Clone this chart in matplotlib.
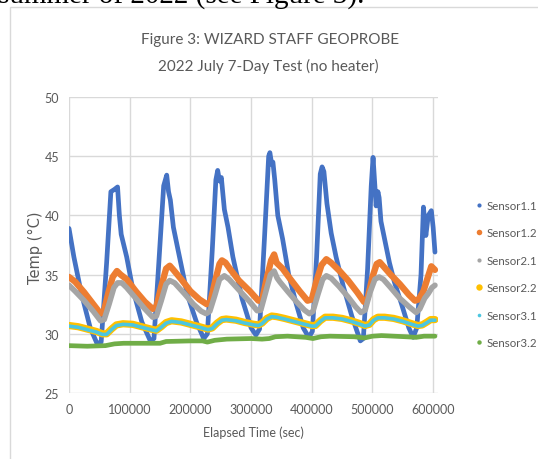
import matplotlib
matplotlib.use("Agg")
import matplotlib.pyplot as plt
from matplotlib.lines import Line2D
from matplotlib.patches import Rectangle

plt.rcParams['font.family'] = ['Lato', 'DejaVu Sans']

# ---- data ----
s11_t = [0, 8000, 20000, 35000, 46000, 53000, 62000, 69000, 75000, 80000, 83000, 86000, 95000, 105000,
         120000, 134000, 140000, 148000, 156000, 161000, 164000, 167000, 172000, 180000, 195000, 210000,
         222000, 228000, 236000, 242000, 245000, 248000, 251000, 256000, 262000, 270000, 285000, 300000,
         308000, 314000, 322000, 329000, 331000, 334000, 336000, 339000, 344000, 352000, 362000, 374000,
         386000, 395000, 401000, 408000, 414000, 417000, 420000, 425000, 432000, 440000, 452000, 466000,
         480000, 485000, 492000, 498000, 501000, 504000, 506000, 509000, 511000, 514000, 520000, 528000,
         536000, 548000, 560000, 567000, 573000, 580000, 584000, 588000, 592000, 597000, 600000, 603000]
s11_v = [38.9, 36.5, 33.5, 30.5, 29.2, 29.3, 36.0, 42.0, 42.2, 42.4, 40.0, 38.4, 36.5, 33.8,
         31.0, 29.4, 29.6, 36.0, 42.5, 43.4, 42.0, 41.3, 39.0, 37.0, 33.3, 31.0,
         29.6, 30.0, 37.0, 43.0, 43.8, 42.9, 43.2, 40.5, 39.0, 36.5, 33.0, 30.5,
         29.9, 30.4, 38.0, 45.0, 45.3, 44.3, 44.5, 43.0, 40.0, 38.0, 35.0, 32.6,
         30.5, 29.7, 30.2, 36.5, 43.5, 44.1, 43.7, 41.0, 38.5, 36.5, 34.0, 31.5,
         29.4, 29.6, 35.5, 42.5, 44.9, 42.5, 40.8, 42.0, 41.5, 39.5, 38.0, 36.0,
         34.4, 32.5, 30.5, 29.7, 30.5, 35.0, 40.7, 38.3, 40.0, 40.4, 39.0, 36.9]

s12_t = [0, 10000, 25000, 40000, 52000, 57000, 65000, 72000, 79000, 85000, 95000, 110000, 125000, 138000,
         144000, 152000, 160000, 166000, 172000, 185000, 200000, 215000, 227000, 233000, 241000, 248000,
         252000, 258000, 265000, 280000, 298000, 312000, 318000, 325000, 333000, 338000, 342000, 352000,
         365000, 380000, 393000, 400000, 408000, 416000, 424000, 432000, 446000, 460000, 475000, 486000,
         492000, 500000, 507000, 512000, 518000, 530000, 545000, 560000, 570000, 576000, 584000, 592000,
         597000, 603000]
s12_v = [34.8, 34.4, 33.5, 32.5, 31.7, 31.8, 33.5, 34.8, 35.3, 35.0, 34.6, 33.6, 32.7, 32.1,
         32.3, 34.0, 35.5, 35.75, 35.4, 34.6, 33.6, 32.9, 32.5, 32.7, 34.5, 35.9,
         36.2, 36.0, 35.5, 34.5, 33.6, 32.8, 32.8, 34.5, 36.2, 36.7, 36.0, 35.5,
         34.6, 33.6, 32.8, 32.9, 34.5, 35.8, 36.3, 36.0, 35.3, 34.5, 33.5, 32.7,
         33.0, 34.8, 35.9, 36.05, 35.7, 35.0, 34.2, 33.3, 32.8, 32.9, 33.6, 34.9,
         35.7, 35.4]

s21_t = [0, 10000, 25000, 40000, 52000, 58000, 66000, 74000, 80000, 87000, 95000, 110000, 125000, 138000,
         144000, 152000, 160000, 166000, 174000, 190000, 205000, 218000, 226000, 232000, 240000, 248000,
         256000, 264000, 280000, 298000, 310000, 316000, 324000, 332000, 338000, 343000, 348000, 360000,
         375000, 388000, 396000, 402000, 410000, 418000, 424000, 432000, 445000, 460000, 472000, 481000,
         488000, 496000, 504000, 511000, 518000, 530000, 545000, 560000, 572000, 578000, 586000, 592000,
         598000, 603000]
s21_v = [34.1, 33.6, 32.8, 31.9, 31.1, 31.2, 32.5, 33.9, 34.3, 34.3, 33.9, 33.0, 32.1, 31.4,
         31.5, 32.8, 34.2, 34.5, 34.3, 33.4, 32.5, 31.9, 31.7, 31.9, 33.2, 34.6,
         34.9, 34.6, 33.7, 32.7, 31.95, 32.0, 33.5, 35.0, 35.3, 34.7, 34.35, 33.6,
         32.7, 32.0, 31.7, 31.9, 33.3, 34.6, 34.9, 34.7, 34.0, 33.1, 32.3, 31.8,
         32.0, 33.5, 34.6, 34.8, 34.6, 33.9, 33.0, 32.3, 31.8, 32.1, 33.0, 33.4,
         33.9, 34.1]

s22_t = [0, 15000, 30000, 45000, 55000, 62000, 70000, 78000, 89000, 105000, 120000, 135000, 144000, 152000,
         160000, 169000, 185000, 200000, 215000, 229000, 236000, 244000, 252000, 259000, 275000, 290000,
         305000, 312000, 318000, 326000, 334000, 342000, 355000, 370000, 385000, 400000, 406000, 414000,
         422000, 435000, 450000, 465000, 480000, 488000, 495000, 502000, 509000, 520000, 535000, 550000,
         565000, 575000, 582000, 590000, 596000, 603000]
s22_v = [30.7, 30.6, 30.4, 30.2, 30.0, 30.0, 30.4, 30.75, 30.85, 30.8, 30.6, 30.4, 30.3, 30.6,
         30.95, 31.1, 31.0, 30.8, 30.6, 30.4, 30.5, 30.9, 31.2, 31.25, 31.15, 30.95,
         30.8, 30.75, 30.9, 31.3, 31.5, 31.45, 31.3, 31.1, 30.9, 30.7, 30.7, 31.1,
         31.4, 31.4, 31.3, 31.1, 30.85, 30.7, 30.8, 31.2, 31.4, 31.4, 31.3, 31.1,
         30.85, 30.7, 30.75, 31.0, 31.2, 31.2]

s31_t = [0, 15000, 30000, 45000, 55000, 62000, 70000, 78000, 89000, 105000, 120000, 135000, 144000, 152000,
         160000, 169000, 185000, 200000, 215000, 229000, 236000, 244000, 252000, 259000, 275000, 290000,
         305000, 312000, 318000, 326000, 334000, 342000, 355000, 370000, 385000, 400000, 406000, 414000,
         422000, 435000, 450000, 465000, 480000, 488000, 495000, 502000, 509000, 520000, 535000, 550000,
         565000, 575000, 582000, 590000, 596000, 603000]
s31_v = [30.65, 30.55, 30.35, 30.15, 29.95, 29.95, 30.35, 30.7, 30.8, 30.75, 30.55, 30.35, 30.25, 30.55,
         30.9, 31.05, 30.95, 30.75, 30.55, 30.35, 30.45, 30.85, 31.15, 31.2, 31.1, 30.9,
         30.75, 30.7, 30.85, 31.25, 31.45, 31.4, 31.25, 31.05, 30.85, 30.65, 30.65, 31.05,
         31.35, 31.35, 31.25, 31.05, 30.8, 30.65, 30.75, 31.15, 31.35, 31.35, 31.25, 31.05,
         30.8, 30.65, 30.7, 30.95, 31.15, 31.15]

s32_t = [0, 30000, 60000, 75000, 90000, 150000, 160000, 200000, 220000, 228000, 240000, 260000, 300000,
         318000, 330000, 340000, 360000, 390000, 402000, 415000, 430000, 470000, 487000, 500000, 515000,
         555000, 572000, 585000, 603000]
s32_v = [29.0, 28.95, 29.0, 29.15, 29.2, 29.2, 29.35, 29.4, 29.4, 29.3, 29.45, 29.55, 29.6,
         29.55, 29.6, 29.75, 29.8, 29.7, 29.6, 29.75, 29.8, 29.75, 29.65, 29.8, 29.85,
         29.75, 29.7, 29.8, 29.8]

names = ['Sensor1.1', 'Sensor1.2', 'Sensor2.1', 'Sensor2.2', 'Sensor3.1', 'Sensor3.2']
colors = ['#4472C4', '#ED7D31', '#A5A5A5', '#FFC000', '#4BC6E0', '#70AD47']
widths = [3.4, 4.6, 4.0, 5.2, 2.6, 3.4]
msizes = [3.0, 4.0, 3.0, 4.6, 2.6, 3.2]

x_ticks = [0, 100000, 200000, 300000, 400000, 500000, 600000]
y_ticks = [25, 30, 35, 40, 45, 50]

W, H = 538, 460
fig = plt.figure(figsize=(W / 100, H / 100), dpi=100)

def fx(px):
    return px / W

def fy(py):
    return 1 - py / H

# text above the chart box (cut off in the reference)
fig.text(fx(-2), fy(3.8), 'summer of 2022 (see Figure 3).', family=['Liberation Serif', 'DejaVu Serif'],
         fontsize=21, color='black', ha='left', va='baseline')

# chart frame
fig.patches.append(Rectangle((fx(10), -0.1), 1.2, fy(8) + 0.1, transform=fig.transFigure,
                             facecolor='none', edgecolor='#D9D9D9', lw=1.0, zorder=-5))

fig.text(fx(270), fy(40), 'Figure 3: WIZARD STAFF GEOPROBE', ha='center', va='center',
         fontsize=11, color='#595959')
fig.text(fx(268), fy(66), '2022 July 7-Day Test (no heater)', ha='center', va='center',
         fontsize=11, color='#595959')

ax = fig.add_axes([fx(69), fy(394), fx(438) - fx(69), fy(98) - fy(394)])
ax.set_facecolor('none')
series = [(s11_t, s11_v), (s12_t, s12_v), (s21_t, s21_v), (s22_t, s22_v), (s31_t, s31_v), (s32_t, s32_v)]
for (t, v), c, w, n in zip(series, colors, widths, names):
    ax.plot(t, v, color=c, lw=w, solid_joinstyle='round', solid_capstyle='round', label=n)

ax.set_xlim(0, 608000)
ax.set_ylim(25, 50)
ax.set_xticks(x_ticks)
ax.set_xticklabels([str(v) for v in x_ticks])
ax.set_yticks(y_ticks)
ax.grid(True, color='#D9D9D9', lw=1.0)
ax.set_axisbelow(True)
for sp in ax.spines.values():
    sp.set_visible(False)
ax.tick_params(length=0, labelsize=9, labelcolor='#595959', pad=7)
ax.set_xlabel('Elapsed Time (sec)', fontsize=9, color='#595959', labelpad=8)
fig.text(fx(35), fy(248), 'Temp (°C)', rotation=90, ha='center', va='center',
         fontsize=10.5, color='#595959', family=['DejaVu Sans'])

handles = [Line2D([], [], ls='none', marker='o', color=c, markersize=m, markeredgewidth=0)
           for c, m in zip(colors, msizes)]
fig.legend(handles, names, loc='center left', bbox_to_anchor=(fx(474), fy(275)), frameon=False,
           fontsize=8.3, labelcolor='#595959', handlelength=0.8, handletextpad=0.25, labelspacing=1.43,
           borderpad=0, borderaxespad=0)

fig.savefig('out.png', dpi=100)
